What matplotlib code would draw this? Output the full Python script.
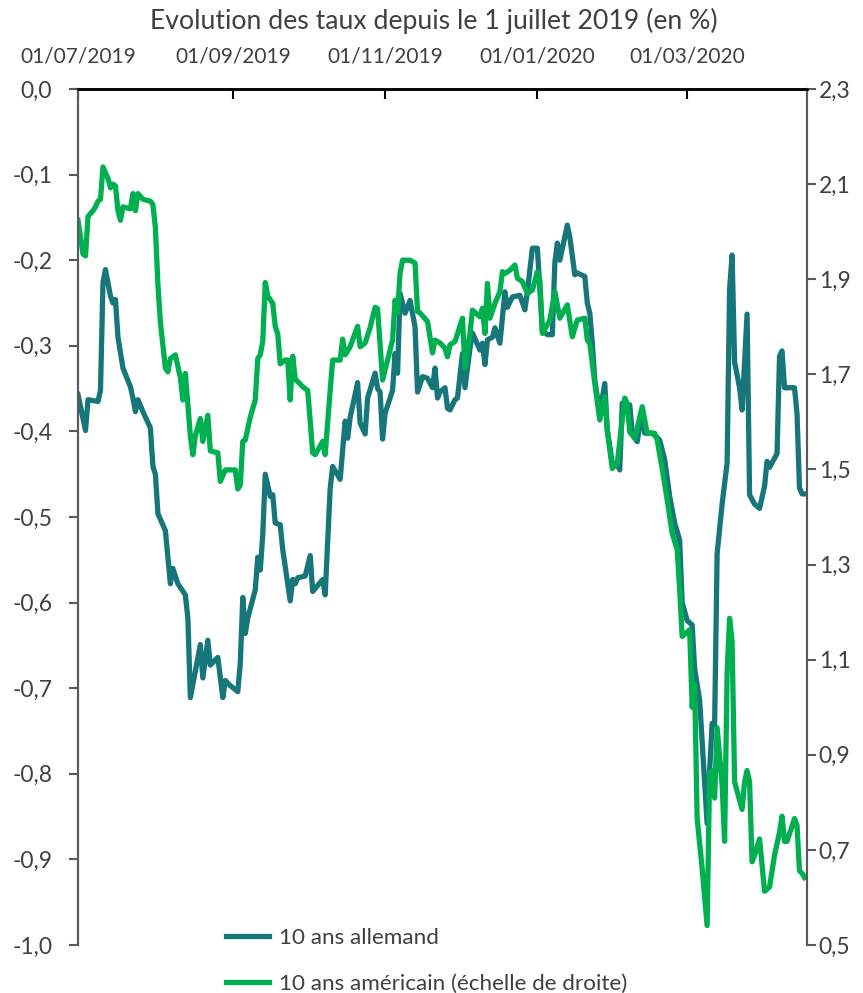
import matplotlib
matplotlib.use("Agg")
import matplotlib.pyplot as plt
import matplotlib.dates as mdates
from matplotlib.ticker import FuncFormatter, MultipleLocator
import pandas as pd

# days since 1 July 2019
START = "2019-07-01"
de_days = [0, 3, 4, 8, 9, 10, 11, 13, 14, 15, 16, 18, 21, 22, 23, 24, 26, 29, 30, 31,
           32, 35, 37, 38, 40, 43, 44, 45, 47, 49, 50, 52, 53, 56, 58, 59, 61, 64, 65, 66,
           67, 68, 71, 72, 73, 74, 75, 77, 78, 79, 81, 82, 84, 85, 86, 87, 88, 91, 93, 94,
           96, 98, 99, 101, 102, 105, 107, 108, 109, 112, 113, 115, 116, 119, 120, 121, 122, 123, 126, 127,
           128, 129, 131, 133, 135, 136, 138, 140, 142, 143, 144, 145, 147, 148, 149, 151, 152, 154, 155, 157,
           158, 161, 162, 163, 164, 166, 167, 169, 171, 172, 174, 177, 179, 180, 182, 184, 186, 188, 190, 191,
           192, 193, 196, 197, 199, 200, 203, 204, 205, 206, 207, 209, 211, 212, 214, 216, 217, 218, 221, 222,
           224, 226, 227, 230, 233, 235, 237, 239, 241, 242, 244, 246, 247, 249, 252, 253, 254, 255, 256, 258,
           260, 261, 262, 263, 265, 266, 268, 269, 271, 273, 275, 276, 277, 280, 281, 282, 283, 287, 288, 289,
           290, 291]
de_10y = [-0.357, -0.399, -0.363, -0.365, -0.352, -0.226, -0.211, -0.242, -0.250, -0.246, -0.290, -0.326, -0.348, -0.361, -0.377, -0.363, -0.377, -0.396, -0.441, -0.450,
          -0.496, -0.516, -0.578, -0.560, -0.578, -0.591, -0.618, -0.711, -0.680, -0.649, -0.688, -0.644, -0.673, -0.664, -0.711, -0.691, -0.697, -0.704, -0.671, -0.594,
          -0.636, -0.618, -0.585, -0.547, -0.562, -0.521, -0.450, -0.476, -0.474, -0.507, -0.509, -0.538, -0.578, -0.598, -0.573, -0.578, -0.571, -0.569, -0.545, -0.587,
          -0.580, -0.573, -0.591, -0.467, -0.441, -0.456, -0.388, -0.408, -0.384, -0.343, -0.390, -0.403, -0.361, -0.332, -0.350, -0.354, -0.409, -0.379, -0.352, -0.309,
          -0.332, -0.239, -0.262, -0.247, -0.278, -0.354, -0.336, -0.338, -0.349, -0.326, -0.361, -0.354, -0.349, -0.373, -0.375, -0.363, -0.361, -0.309, -0.349, -0.303,
          -0.285, -0.305, -0.297, -0.322, -0.293, -0.290, -0.279, -0.297, -0.237, -0.255, -0.243, -0.241, -0.258, -0.237, -0.186, -0.186, -0.282, -0.287, -0.287, -0.203,
          -0.180, -0.200, -0.159, -0.173, -0.217, -0.215, -0.219, -0.250, -0.262, -0.297, -0.340, -0.379, -0.344, -0.398, -0.437, -0.439, -0.445, -0.367, -0.369, -0.402,
          -0.412, -0.375, -0.402, -0.402, -0.410, -0.433, -0.476, -0.507, -0.527, -0.600, -0.621, -0.626, -0.677, -0.714, -0.858, -0.797, -0.741, -0.743, -0.543, -0.485,
          -0.437, -0.234, -0.194, -0.319, -0.349, -0.375, -0.263, -0.474, -0.485, -0.490, -0.464, -0.435, -0.442, -0.426, -0.312, -0.306, -0.349, -0.349, -0.379, -0.466,
          -0.473, -0.473]

us_days = [0, 2, 3, 4, 6, 7, 8, 9, 10, 12, 13, 14, 15, 16, 17, 18, 21, 22, 23, 24,
           26, 29, 30, 31, 32, 33, 35, 36, 37, 39, 41, 42, 43, 45, 46, 47, 49, 50, 52, 53,
           56, 57, 59, 63, 64, 65, 66, 67, 69, 71, 72, 73, 74, 75, 76, 78, 79, 80, 81, 83,
           84, 85, 86, 87, 90, 92, 93, 94, 95, 98, 99, 101, 102, 105, 106, 107, 108, 109, 112, 113,
           115, 117, 119, 120, 122, 126, 127, 128, 129, 130, 133, 135, 136, 137, 140, 142, 143, 145, 147, 148,
           149, 151, 154, 155, 157, 158, 161, 162, 163, 164, 165, 167, 169, 170, 171, 173, 175, 176, 178, 180,
           182, 184, 185, 186, 189, 191, 193, 196, 198, 200, 203, 204, 205, 207, 209, 211, 212, 214, 216, 219,
           220, 221, 223, 226, 228, 231, 232, 234, 236, 238, 240, 241, 242, 244, 245, 246, 247, 248, 250, 252,
           253, 254, 255, 256, 258, 259, 260, 261, 262, 263, 266, 267, 268, 269, 270, 271, 273, 275, 277, 279,
           281, 282, 283, 284, 287, 288, 289, 290, 291]
us_10y = [2.024, 1.953, 1.949, 2.032, 2.044, 2.052, 2.064, 2.068, 2.136, 2.112, 2.092, 2.100, 2.096, 2.044, 2.024, 2.052, 2.048, 2.080, 2.044, 2.080,
          2.068, 2.064, 2.057, 2.008, 1.889, 1.809, 1.713, 1.705, 1.733, 1.741, 1.693, 1.646, 1.702, 1.571, 1.531, 1.571, 1.607, 1.559, 1.614, 1.539,
          1.535, 1.475, 1.499, 1.499, 1.459, 1.467, 1.559, 1.562, 1.610, 1.646, 1.733, 1.741, 1.769, 1.893, 1.865, 1.849, 1.801, 1.785, 1.722, 1.730,
          1.730, 1.646, 1.738, 1.690, 1.674, 1.666, 1.602, 1.535, 1.531, 1.559, 1.531, 1.666, 1.730, 1.730, 1.774, 1.741, 1.749, 1.758, 1.801, 1.758,
          1.766, 1.798, 1.841, 1.838, 1.688, 1.772, 1.856, 1.829, 1.913, 1.940, 1.940, 1.934, 1.832, 1.829, 1.811, 1.745, 1.772, 1.766, 1.755, 1.737,
          1.762, 1.769, 1.818, 1.713, 1.786, 1.835, 1.821, 1.839, 1.786, 1.891, 1.818, 1.849, 1.874, 1.916, 1.912, 1.919, 1.930, 1.902, 1.895, 1.870,
          1.877, 1.916, 1.898, 1.786, 1.814, 1.874, 1.818, 1.846, 1.779, 1.814, 1.818, 1.772, 1.765, 1.681, 1.604, 1.653, 1.583, 1.502, 1.513, 1.650,
          1.639, 1.579, 1.565, 1.632, 1.576, 1.576, 1.562, 1.502, 1.436, 1.366, 1.331, 1.247, 1.149, 1.158, 1.163, 1.000, 1.048, 0.766, 0.661, 0.541,
          0.862, 0.867, 0.809, 0.957, 0.838, 0.718, 1.072, 1.187, 1.139, 0.843, 0.785, 0.843, 0.867, 0.843, 0.675, 0.689, 0.723, 0.613, 0.622, 0.689,
          0.737, 0.771, 0.718, 0.718, 0.766, 0.752, 0.656, 0.651, 0.642]

date_ticks = ["2019-07-01", "2019-09-01", "2019-11-01", "2020-01-01", "2020-03-01"]

TEAL = "#17767a"
GREEN = "#00b050"
TXT = "#404040"
AXC = "#595959"

plt.rcParams["font.family"] = ["Lato", "DejaVu Sans"]


def comma(v, _):
    s = f"{v:.1f}".replace(".", ",")
    return "0,0" if s == "-0,0" else s


def main():
    t0 = pd.Timestamp(START)
    de_x = t0 + pd.to_timedelta(de_days, unit="D")
    us_x = t0 + pd.to_timedelta(us_days, unit="D")

    fig = plt.figure(figsize=(8.63, 9.93), dpi=100)
    ax = fig.add_axes([0.0904, 0.0483, 0.8447, 0.8621])
    ax2 = ax.twinx()

    l1, = ax.plot(de_x, de_10y, color=TEAL, lw=3.8, solid_joinstyle="round",
                  label="10 ans allemand")
    l2, = ax2.plot(us_x, us_10y, color=GREEN, lw=3.8, solid_joinstyle="round",
                   label="10 ans américain (échelle de droite)")

    ax.set_xlim(t0, pd.Timestamp("2020-04-18"))
    ax.set_ylim(-1.0, 0.0)
    ax2.set_ylim(0.5, 2.3)
    ax.yaxis.set_major_locator(MultipleLocator(0.1))
    ax2.set_yticks([0.5 + 0.2 * i for i in range(10)])
    ax.yaxis.set_major_formatter(FuncFormatter(comma))
    ax2.yaxis.set_major_formatter(FuncFormatter(comma))

    ax.xaxis.tick_top()
    ax.set_xticks(pd.to_datetime(date_ticks))
    ax.xaxis.set_major_formatter(mdates.DateFormatter("%d/%m/%Y"))
    ax.tick_params(axis="x", direction="in", length=7, width=1.5, color="black",
                   labelsize=15, labelcolor=TXT, pad=16)
    ax.tick_params(axis="y", direction="out", length=6.5, width=1.5, color=AXC,
                   labelsize=16.5, labelcolor=TXT, pad=12)
    ax2.tick_params(axis="y", direction="out", length=6.5, width=1.5, color=AXC,
                    labelsize=16.5, labelcolor=TXT, pad=2)

    for a in (ax, ax2):
        a.spines["bottom"].set_visible(False)
        a.spines["top"].set_color("black")
        a.spines["top"].set_linewidth(1.8)
        a.spines["left"].set_color(AXC)
        a.spines["left"].set_linewidth(1.5)
        a.spines["right"].set_color(AXC)
        a.spines["right"].set_linewidth(1.5)

    fig.text(0.503, 0.979, "Evolution des taux depuis le 1 juillet 2019 (en %)",
             ha="center", va="center", fontsize=19.2, color=TXT)

    fig.legend([l1, l2], [l1.get_label(), l2.get_label()], loc="upper left",
               bbox_to_anchor=(0.252, 0.075), frameon=False, fontsize=16.2,
               labelcolor=TXT, handlelength=1.9, handletextpad=0.45,
               labelspacing=1.17, borderaxespad=0)

    fig.savefig("out.png", dpi=100)
    plt.close(fig)


if __name__ == "__main__":
    main()
